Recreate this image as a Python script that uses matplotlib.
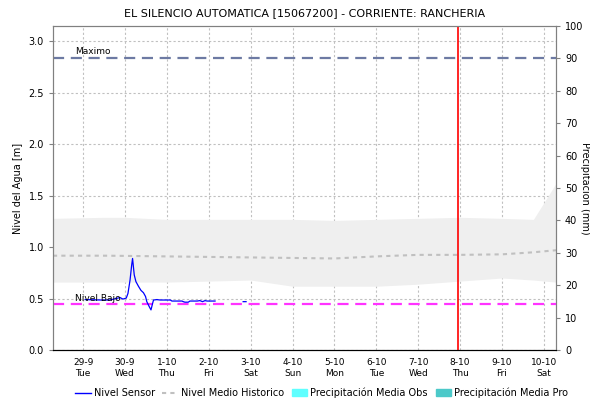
import matplotlib
matplotlib.use("Agg")
import matplotlib.pyplot as plt
import numpy as np
from matplotlib.lines import Line2D
from matplotlib.patches import Patch

# days counted from 29-9 (=0)
tick_days = list(range(12))
tick_labels = ["29-9\nTue", "30-9\nWed", "1-10\nThu", "2-10\nFri", "3-10\nSat", "4-10\nSun",
               "5-10\nMon", "6-10\nTue", "7-10\nWed", "8-10\nThu", "9-10\nFri", "10-10\nSat"]

sensor_t = [0.05, 0.41, 0.64, 0.88, 0.95, 1.03, 1.07, 1.12, 1.16, 1.18, 1.20, 1.22, 1.26,
            1.32, 1.38, 1.44, 1.49, 1.52, 1.58, 1.62, 1.65, 1.68, 1.76, 1.84, 2.08, 2.12,
            2.36, 2.39, 2.43, 2.51, 2.55, 2.72, 2.79, 2.85, 2.91, 2.96, 3.15,
            3.16, 3.82, 3.89]
sensor_h = [0.49, 0.486, 0.486, 0.51, 0.495, 0.505, 0.55, 0.68, 0.83, 0.89, 0.81, 0.73, 0.665,
            0.62, 0.58, 0.557, 0.52, 0.47, 0.42, 0.39, 0.44, 0.486, 0.49, 0.486, 0.486, 0.476,
            0.476, 0.47, 0.465, 0.465, 0.476, 0.476, 0.48, 0.47, 0.48, 0.476, 0.476,
            np.nan, 0.47, 0.47]

hist_t = [-0.72, 0.5, 1.0, 2.0, 3.0, 4.0, 5.0, 6.0, 7.0, 8.0, 9.0, 10.0, 10.75, 11.29]
hist_upper = [1.28, 1.29, 1.29, 1.27, 1.27, 1.27, 1.27, 1.26, 1.27, 1.28, 1.29, 1.28, 1.27, 1.62]
hist_lower = [0.66, 0.66, 0.66, 0.66, 0.67, 0.68, 0.62, 0.62, 0.62, 0.64, 0.67, 0.70, 0.68, 0.66]
hist_median = [0.917, 0.917, 0.915, 0.91, 0.905, 0.90, 0.895, 0.89, 0.91, 0.925, 0.925, 0.93, 0.95, 0.97]

maximo = 2.84
nivel_bajo = 0.45
now_day = 8.945

fig = plt.figure(figsize=(5.9, 4.03), dpi=100)
ax = fig.add_axes([0.0898, 0.1315, 0.8526, 0.804])
ax2 = ax.twinx()

ax.fill_between(hist_t, hist_lower, hist_upper, color="#efefef", lw=0, zorder=1)
ax.plot(hist_t, hist_median, color="#c0c0c0", ls=(0, (2, 2)), lw=1.5, zorder=2)
ax.axhline(maximo, color="#6d7aa3", ls=(0, (5, 3)), lw=1.6, zorder=3)
ax.axhline(nivel_bajo, color="#ff33ff", ls=(0, (5, 3)), lw=1.6, zorder=3)
ax.plot(sensor_t, sensor_h, color="#0000ff", lw=0.9, zorder=4)
ax.axvline(now_day, color="#ff0000", lw=1.2, zorder=5)
ax.text(-0.2, maximo + 0.02, "Maximo", fontsize=6.5, va="bottom", ha="left", zorder=6)
ax.text(-0.2, nivel_bajo + 0.005, "Nivel Bajo", fontsize=6.5, va="bottom", ha="left", zorder=6)

ax.set_xlim(-0.72, 11.29)
ax.set_ylim(0, 3.15)
ax.set_yticks([0.0, 0.5, 1.0, 1.5, 2.0, 2.5, 3.0])
ax.set_yticklabels(["0.0", "0.5", "1.0", "1.5", "2.0", "2.5", "3.0"])
ax.set_xticks(tick_days)
ax.set_xticklabels(tick_labels, fontsize=6.5)
ax.tick_params(axis="y", labelsize=7, length=3, color="#808080")
ax.tick_params(axis="x", length=0, pad=6)
ax.grid(True, color="#c0c0c0", ls=(0, (2, 2)), lw=0.8)
ax.set_axisbelow(True)
ax.set_ylabel("Nivel del Agua [m]", fontsize=7)

ax2.set_ylim(0, 100)
ax2.set_yticks(range(0, 101, 10))
ax2.tick_params(axis="y", labelsize=7, length=3, color="#808080")
ax2.set_ylabel("Precipitación (mm)", fontsize=7, rotation=-90, labelpad=5)

for a in (ax, ax2):
    for s in ("left", "right", "top"):
        a.spines[s].set_color("#808080")
    a.spines["bottom"].set_color("#000000")
    a.spines["bottom"].set_linestyle((0, (1, 1)))

ax.set_title("EL SILENCIO AUTOMATICA [15067200] - CORRIENTE: RANCHERIA", fontsize=8, pad=7)

handles = [Line2D([], [], color="#0000ff", lw=1),
           Line2D([], [], color="#c0c0c0", ls=(0, (2, 2)), lw=1.5),
           Patch(color="#5fffff"),
           Patch(color="#4cc9c9")]
labels = ["Nivel Sensor", "Nivel Medio Historico", "Precipitación Media Obs", "Precipitación Media Pro"]
fig.legend(handles, labels, loc="lower center", bbox_to_anchor=(0.545, -0.01), ncol=4, frameon=False,
           fontsize=7, handlelength=1.6, handletextpad=0.3, columnspacing=0.8)

fig.savefig("out.png", dpi=100)
